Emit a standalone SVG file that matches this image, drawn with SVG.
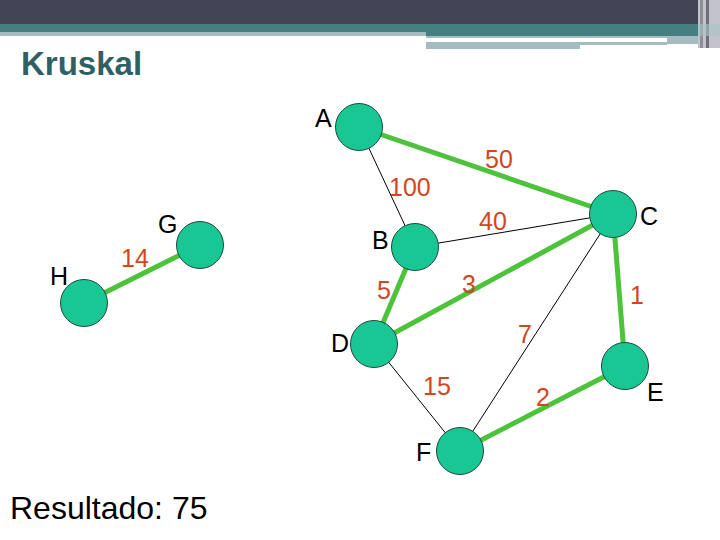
<svg xmlns="http://www.w3.org/2000/svg" width="720" height="540" viewBox="0 0 720 540">
<style>
.node{fill:#19c795;stroke:#1f4a3c;stroke-width:1}
.tree{stroke:#4dc23b;stroke-width:5;fill:none}
.thin{stroke:#000;stroke-width:1;fill:none}
.lbl{font-family:"Liberation Sans",Arial,sans-serif;font-size:25px;fill:#000}
.w{font-family:"Liberation Sans",Arial,sans-serif;font-size:25px;fill:#d2461e}
</style>
<rect width="720" height="540" fill="#fff"/>
<g id="header">
<rect x="0" y="0" width="720" height="24" fill="#424455"/>
<rect x="0" y="24" width="720" height="8" fill="#467f82"/>
<rect x="426" y="32" width="294" height="4" fill="#467f82"/>
<rect x="0" y="32" width="426" height="4" fill="#a4bcbf"/>
<rect x="426" y="36" width="272" height="2" fill="#a4bcbf"/>
<rect x="426" y="42" width="154" height="7" fill="#a4bcbf"/>
<rect x="580" y="42" width="87" height="3" fill="#a4bcbf"/>
<rect x="667" y="38" width="31" height="6" fill="#a4bcbf"/>
<rect x="698" y="0" width="22" height="48" fill="#c3c3cb"/>
<rect x="700" y="0" width="3" height="48" fill="#8e8e9a"/>
<rect x="706" y="0" width="3" height="48" fill="#6e6e7c"/>
<rect x="698" y="24" width="22" height="12" fill="#a9c4c6" opacity="0.6"/>
</g>
<text x="21" y="75" font-family="'Liberation Sans',Arial,sans-serif" font-size="33" font-weight="bold" fill="#2f6064">Kruskal</text>
<g id="edges">
<line class="tree" x1="359" y1="127" x2="613" y2="214"/>
<line class="thin" x1="359" y1="127" x2="415" y2="247"/>
<line class="thin" x1="415" y1="247" x2="613" y2="214"/>
<line class="tree" x1="613" y1="214" x2="374" y2="344"/>
<line class="tree" x1="415" y1="247" x2="374" y2="344"/>
<line class="tree" x1="613" y1="214" x2="625" y2="366"/>
<line class="thin" x1="613" y1="214" x2="460" y2="451"/>
<line class="thin" x1="374" y1="344" x2="460" y2="451"/>
<line class="tree" x1="460" y1="451" x2="625" y2="366"/>
<line class="tree" x1="84" y1="303" x2="200" y2="245"/>
</g>
<g id="weights">
<text class="w" x="485" y="168">50</text>
<text class="w" x="389" y="196">100</text>
<text class="w" x="479" y="230">40</text>
<text class="w" x="121" y="267">14</text>
<text class="w" x="377" y="299">5</text>
<text class="w" x="462" y="293">3</text>
<text class="w" x="630" y="304">1</text>
<text class="w" x="518" y="343">7</text>
<text class="w" x="423" y="395">15</text>
<text class="w" x="536" y="406">2</text>
</g>
<g id="A"><circle class="node" cx="359" cy="127" r="23.5"/><text class="lbl" x="315" y="127">A</text></g>
<g id="B"><circle class="node" cx="415" cy="247" r="23.5"/><text class="lbl" x="372" y="249">B</text></g>
<g id="C"><circle class="node" cx="613" cy="214" r="23.5"/><text class="lbl" x="640" y="225">C</text></g>
<g id="D"><circle class="node" cx="374" cy="344" r="23.5"/><text class="lbl" x="331" y="352">D</text></g>
<g id="E"><circle class="node" cx="625" cy="366" r="23.5"/><text class="lbl" x="647" y="401">E</text></g>
<g id="F"><circle class="node" cx="460" cy="451" r="23.5"/><text class="lbl" x="416" y="461">F</text></g>
<g id="G"><circle class="node" cx="200" cy="245" r="23.5"/><text class="lbl" x="158" y="233">G</text></g>
<g id="H"><circle class="node" cx="84" cy="303" r="23.5"/><text class="lbl" x="50" y="285">H</text></g>
<text x="10" y="519" font-family="'Liberation Sans',Arial,sans-serif" font-size="32" fill="#000">Resultado: 75</text>
</svg>
